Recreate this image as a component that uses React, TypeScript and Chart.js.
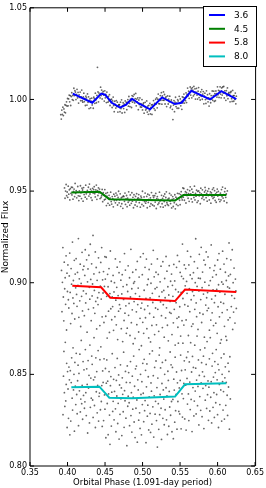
import { useEffect, useRef } from "react";
import { Chart, registerables } from "chart.js";

Chart.register(...registerables);

// ---- axes ----
const X_TICKS = [0.35, 0.4, 0.45, 0.5, 0.55, 0.6, 0.65];
const Y_TICKS = [0.8, 0.85, 0.9, 0.95, 1.0, 1.05];
const X_TITLE = "Orbital Phase (1.091-day period)";
const Y_TITLE = "Normalized Flux";

// ---- series ----
const SERIES = ["3.6", "4.5", "5.8", "8.0"];
const COLORS = ["#0000ff", "#008000", "#ff0000", "#00bfbf"];

// ---- model curves (phase, flux) ----
const MODEL_PHASE_36 = [0.407, 0.433, 0.445, 0.45, 0.459, 0.47, 0.478, 0.486, 0.495, 0.51, 0.526, 0.543, 0.552, 0.565, 0.59, 0.605, 0.625];
const MODEL_FLUX_36 = [1.0032, 0.9982, 1.0032, 1.0026, 0.9982, 0.9955, 0.9972, 1.0004, 0.9978, 0.9946, 1.0011, 0.9975, 0.9982, 1.0047, 1.0, 1.0045, 1.0002];
const MODEL_PHASE_45 = [0.405, 0.4425, 0.4557, 0.486, 0.5433, 0.5544, 0.6117];
const MODEL_FLUX_45 = [0.9492, 0.9496, 0.9456, 0.9453, 0.9448, 0.9478, 0.9478];
const MODEL_PHASE_58 = [0.4064, 0.4448, 0.457, 0.4861, 0.5433, 0.5566, 0.6249];
const MODEL_FLUX_58 = [0.8984, 0.8975, 0.8918, 0.8912, 0.89, 0.8963, 0.895];
const MODEL_PHASE_80 = [0.4051, 0.4425, 0.4557, 0.4861, 0.5433, 0.5566, 0.6117];
const MODEL_FLUX_80 = [0.8429, 0.8433, 0.8373, 0.837, 0.8379, 0.8446, 0.8451];

// ---- observed points: evenly sampled phase range, flux = base + value * 1e-4 ----
const DOTS_RANGE_36 = [0.391, 0.625];
const DOTS_BASE_36 = 1.0;
const DOTS_36 = [
  -83,-107,-58,-82,-42,-88,-52,-69,-29,-73,-32,-13,-36,5,
  -35,3,24,-13,21,-33,16,37,-1,21,-5,61,21,48,
  40,-1,28,55,8,39,-20,25,11,40,-7,14,51,-7,
  -15,14,34,-12,5,-33,18,8,-31,30,-16,14,-50,-5,
  4,-46,-10,7,-30,-12,-48,12,4,-21,34,-2,-18,22,
  175,41,-13,35,26,8,67,21,51,3,35,44,24,-9,
  47,9,28,-17,40,13,-15,17,-8,26,-33,-1,-17,1,
  -44,-8,13,-33,-67,-10,-27,-47,-6,-39,-15,-69,-33,-29,
  -29,-67,-15,-50,-2,-74,-34,-18,-50,-26,-71,-8,-31,-16,
  -56,-16,-1,-37,16,-21,-39,1,-8,-44,21,-15,17,-6,
  27,-19,4,33,-35,2,-14,9,-56,-3,-28,8,-41,-23,
  -42,-1,-57,-26,-19,-75,-38,-16,-58,-51,-8,-69,-36,-81,
  -32,-62,-21,-79,-44,-30,-82,-29,-39,-6,-50,-22,-59,1,
  -25,9,-46,1,29,-23,0,-24,21,-5,37,-26,19,-4,
  41,-5,27,-25,8,15,-39,-2,19,-25,2,-13,18,-45,
  -36,-3,-16,-54,-110,-31,-6,-67,-15,12,-39,-20,-48,-1,
  -8,-48,17,-21,3,-35,-11,-54,14,-19,11,29,-20,9,
  -7,36,-17,27,62,20,45,6,39,68,24,58,9,64,
  51,19,71,28,58,2,40,60,24,2,45,65,10,26,
  -3,41,17,54,1,29,43,-24,18,34,-1,-22,47,4,
  26,-13,9,-36,31,5,-18,21,2,46,-5,21,45,-11,
  31,-7,46,31,13,69,25,50,11,45,69,29,9,63,
  24,68,35,71,8,47,36,-5,48,20,63,4,33,38,
  26,-13,38,44,4,-11,49,20,-10,21,0,35,-24,18,
];

const DOTS_RANGE_45 = [0.396, 0.613];
const DOTS_BASE_45 = 0.95;
const DOTS_45 = [
  17,-39,0,36,-25,-5,-34,27,-17,7,-48,13,-12,22,
  -21,20,-44,-2,11,-30,42,-13,3,-37,-6,25,-26,-52,
  1,-28,29,-9,-41,16,6,-55,19,-19,-4,-33,32,-15,
  -43,4,-7,21,-27,38,-16,10,-36,-1,-50,15,-11,8,
  24,-14,-32,7,33,-45,2,-24,18,-10,11,-41,-7,-35,
  -25,9,-58,-9,-20,-48,8,-44,-13,-79,-28,-8,-67,-40,
  -23,-77,-38,-6,-57,-71,-30,-42,-86,-17,-52,-28,-64,-11,
  -50,-22,-76,-35,-1,-64,-48,-15,-83,-37,-69,-32,-94,-26,
  -30,-56,-11,-73,-43,-24,-85,-39,-61,-4,-52,-77,-21,-47,
  -67,-9,-55,-34,-91,-20,-46,-76,-29,-59,-14,-83,-41,-37,
  -19,-63,-44,-88,-27,-36,-73,-1,-51,-81,-32,-57,-11,-66,
  -54,-29,-91,-17,-62,-46,-22,-83,-37,-69,-8,-50,-76,-25,
  -35,-81,-25,-60,-13,-95,-41,-30,-73,-46,-65,-6,-54,-86,
  -47,-23,-69,-40,-88,-28,-57,-16,-79,-35,-4,-63,-73,-44,
  -78,-39,-13,-55,-68,-22,-92,-46,-30,-84,-42,-63,-20,-97,
  -33,-73,-40,-12,-79,-40,-14,-50,-74,-19,-3,-37,-48,17,
  -33,14,-50,-18,-3,-65,-9,-24,8,-39,-14,-56,2,23,
  -15,-43,10,-59,-6,-20,-35,27,-48,-12,-28,5,-62,-2,
  -53,1,-26,-8,-69,16,-16,-40,7,-31,-21,-47,-5,20,
  4,-36,-13,-55,-1,-24,13,-48,-18,-4,-66,-10,-29,9,
  -40,18,-33,2,-51,-15,-61,-7,11,-27,-2,-45,-19,-57,
  -11,-48,8,-30,22,-38,-20,-54,-3,15,-34,-16,-63,1,
];

const DOTS_RANGE_58 = [0.392, 0.625];
const DOTS_BASE_58 = 0.9;
const DOTS_58 = [
  67,-158,2,192,-78,-208,112,-33,27,-118,147,-258,52,-48,97,-93,
  -138,37,162,-53,-223,77,-8,-168,222,-83,12,-113,122,-198,47,-28,
  131,-64,-129,56,-14,241,-189,21,-99,101,-239,-4,-74,166,-154,71,
  -45,90,-180,40,180,-110,-60,125,-270,5,75,-145,150,-25,-90,210,
  18,-207,103,-72,-7,258,-137,48,-42,-167,168,-102,83,-252,13,-82,
  -119,136,-54,56,-234,-19,111,-89,192,-186,16,-56,61,-217,-20,142,
  20,-183,139,-74,-302,46,-22,-155,77,-271,-59,173,-142,8,-202,-77,
  -130,40,-260,-50,0,-185,130,-95,-230,-25,85,-310,-70,-155,55,-120,
  114,-141,14,-251,-61,44,-321,-21,-91,-206,159,-166,69,-126,-276,-11,
  -248,-48,92,-178,-113,27,-288,-78,182,-218,-33,-148,57,-333,-3,-103,
  6,-304,-59,71,-159,-229,116,-119,-29,-269,31,-74,-194,141,-139,-344,
  -111,44,-216,159,-276,-41,-146,84,-191,-86,129,-251,-11,-126,19,-301,
  72,-168,-83,-323,-3,102,-233,-58,-108,177,-188,32,-283,-33,-138,57,
  -230,-25,130,-145,45,-265,-75,-355,5,-105,90,-180,-50,-245,115,-120,
  -42,-297,23,-82,-192,143,-137,63,-232,-22,-317,-67,93,-162,-102,8,
  -167,47,-283,-14,-74,-219,100,-145,10,-340,-37,-109,84,-194,149,-243,
  -50,-187,116,-131,56,-291,-53,35,-207,211,-86,22,-231,97,-120,-17,
  77,-203,7,-58,172,-128,-288,97,-33,-158,42,142,-93,-238,22,-48,
  -225,55,-70,115,-145,0,240,-110,-185,-20,80,-255,25,-45,155,-165,
  23,-92,193,-217,-27,58,-172,-62,123,-297,3,98,-122,168,-82,-152,
  -54,141,-139,-14,-259,81,11,-204,206,-89,-164,31,-39,-234,66,-109,
  94,-71,-221,44,-36,-276,124,-131,-11,159,-186,-51,74,-106,-311,4,
  -163,172,-8,-113,102,-238,-63,57,-293,12,132,-148,-23,-203,37,217,
  -30,-190,45,125,-130,-70,180,-255,0,-160,80,-85,-220,20,-45,-140,
];

const DOTS_RANGE_80 = [0.394, 0.617];
const DOTS_BASE_80 = 0.85;
const DOTS_80 = [
  -220,-10,125,-100,-175,175,-145,-55,60,-290,15,-80,-240,40,-30,-330,
  20,-255,-45,90,-130,-195,145,-85,0,-310,65,-65,-165,115,-110,-215,
  -35,50,-280,5,-90,110,-205,-135,185,-160,-60,-245,70,-115,25,-185,
  -150,135,-100,-225,30,-55,-320,75,-75,-5,-265,160,-180,-20,-130,100,
  55,-140,-235,-30,200,-170,-15,-290,90,-95,15,-210,-60,130,-255,-120,
  -102,80,-193,150,-148,-61,-284,19,-44,-252,85,-112,-190,32,-346,-48,
  79,-159,-37,-329,-107,15,-222,-382,-62,-12,-282,-97,113,-202,-147,-27,
  -248,-93,37,-188,-313,-33,-118,87,-268,-158,-3,-353,-58,-218,52,-133,
  -74,-334,-19,-109,-204,121,-289,-89,-144,16,-239,-44,-389,46,-174,-119,
  10,-155,-280,-45,70,-225,-100,-315,-10,-190,-125,100,-260,-65,-345,30,
  -185,45,-140,-370,-30,-85,-250,135,-210,-295,0,-110,-330,-40,-165,60,
  -103,-258,82,-198,-143,22,-373,-68,57,-228,-168,-13,-303,-123,112,-213,
  -317,-47,-92,-272,128,-177,-7,-342,-117,38,-217,-147,73,-252,-72,-397,
  -20,-160,-300,105,-220,-110,35,-185,-355,-50,65,-240,-85,-135,-275,0,
  -193,77,-73,-248,-118,-328,17,-33,-283,-93,-178,122,-223,52,-148,-313,
  38,-137,-351,-26,-86,-261,94,-198,-110,13,-299,-46,-148,170,-202,-74,
  -216,-33,105,-297,21,-106,-233,170,-132,-49,74,-243,25,-59,-304,92,
  -22,-162,123,-107,-252,68,-42,-192,173,-137,13,-312,98,-72,38,-227,
  -146,159,-91,34,-216,-31,209,-171,-66,79,-276,-6,-121,134,-196,-46,
  64,-231,14,-76,99,-296,-11,144,-141,-61,54,-186,179,-111,-36,-251,
  -70,85,-200,200,-125,-40,-265,45,115,-180,-15,-100,-235,70,10,-155,
  135,-110,-30,-220,55,-290,25,-55,-165,170,-85,90,-255,0,-40,-195,
  -94,111,-244,-19,41,-169,-44,186,-114,-224,61,-69,16,-299,96,-134,
];

const FONT = "'DejaVu Sans', sans-serif";

function dotPoints(range: number[], base: number, vals: number[]) {
  const n = vals.length;
  return vals.map((v, i) => ({
    x: range[0] + ((range[1] - range[0]) * i) / (n - 1),
    y: base + v / 10000,
  }));
}

function modelPoints(phase: number[], flux: number[]) {
  return phase.map((p, i) => ({ x: p, y: flux[i] }));
}

const framePlugin = {
  id: "frame",
  afterDraw(chart: any) {
    const { ctx, chartArea, scales } = chart;
    const { left, right, top, bottom } = chartArea;
    const xs = scales.x;
    const ys = scales.y;
    ctx.save();
    ctx.strokeStyle = "#000";
    ctx.lineWidth = 1;
    const line = (x1: number, y1: number, x2: number, y2: number) => {
      ctx.beginPath();
      ctx.moveTo(x1, y1);
      ctx.lineTo(x2, y2);
      ctx.stroke();
    };
    X_TICKS.forEach((v) => {
      const px = xs.getPixelForValue(v);
      line(px, bottom, px, bottom - 4);
      line(px, top, px, top + 4);
    });
    Y_TICKS.forEach((v) => {
      const py = ys.getPixelForValue(v);
      line(left, py, left + 4, py);
      line(right, py, right - 4, py);
    });
    line(left, top, left, bottom);
    line(left, bottom, right, bottom);
    line(left, top, right, top);
    line(right + 0.5, top, right + 0.5, bottom);

    // legend
    const bx = 203.5, by = 6.5, bw = 53, bh = 60;
    ctx.fillStyle = "#fff";
    ctx.fillRect(bx, by, bw, bh);
    ctx.strokeStyle = "#000";
    ctx.strokeRect(bx, by, bw, bh);
    ctx.font = `9px ${FONT}`;
    ctx.textBaseline = "middle";
    ctx.textAlign = "left";
    SERIES.forEach((name, i) => {
      const yy = 15 + i * 13.8;
      ctx.strokeStyle = COLORS[i];
      ctx.lineWidth = 2;
      line(209, yy, 225, yy);
      ctx.fillStyle = "#000";
      ctx.fillText(name, 234, yy + 0.5);
    });
    ctx.restore();
  },
};

export default function App() {
  const ref = useRef<HTMLCanvasElement | null>(null);

  useEffect(() => {
    document.body.style.margin = "0";
    const canvas = ref.current;
    if (!canvas) return;

    const dotStyle = {
      showLine: false,
      pointRadius: 0.9,
      pointBorderWidth: 0,
      pointBackgroundColor: "rgba(0,0,0,0.6)",
      backgroundColor: "rgba(0,0,0,0.6)",
      borderWidth: 0,
      order: 2,
    };
    const lineStyle = (i: number) => ({
      showLine: true,
      borderColor: COLORS[i],
      backgroundColor: COLORS[i],
      borderWidth: 2,
      pointRadius: 0,
      tension: 0,
      fill: false,
      order: 1,
    });

    const chart = new Chart(canvas, {
      type: "scatter",
      data: {
        datasets: [
          { label: SERIES[0], data: modelPoints(MODEL_PHASE_36, MODEL_FLUX_36), ...lineStyle(0) },
          { label: SERIES[1], data: modelPoints(MODEL_PHASE_45, MODEL_FLUX_45), ...lineStyle(1) },
          { label: SERIES[2], data: modelPoints(MODEL_PHASE_58, MODEL_FLUX_58), ...lineStyle(2) },
          { label: SERIES[3], data: modelPoints(MODEL_PHASE_80, MODEL_FLUX_80), ...lineStyle(3) },
          { label: "d36", data: dotPoints(DOTS_RANGE_36, DOTS_BASE_36, DOTS_36), ...dotStyle },
          { label: "d45", data: dotPoints(DOTS_RANGE_45, DOTS_BASE_45, DOTS_45), ...dotStyle },
          { label: "d58", data: dotPoints(DOTS_RANGE_58, DOTS_BASE_58, DOTS_58), ...dotStyle },
          { label: "d80", data: dotPoints(DOTS_RANGE_80, DOTS_BASE_80, DOTS_80), ...dotStyle },
        ] as any,
      },
      options: {
        responsive: false,
        animation: false,
        devicePixelRatio: 1,
        layout: { padding: { left: 0, top: 3, right: 9, bottom: 0 }, autoPadding: false } as any,
        plugins: { legend: { display: false }, tooltip: { enabled: false } },
        scales: {
          x: {
            type: "linear",
            position: "bottom",
            min: 0.35,
            max: 0.65,
            grid: { display: false, drawTicks: false },
            border: { display: false },
            afterBuildTicks: (s: any) => {
              s.ticks = X_TICKS.map((v) => ({ value: v }));
            },
            afterFit: (s: any) => {
              s.height = 22;
            },
            ticks: {
              autoSkip: false,
              maxRotation: 0,
              padding: 2,
              color: "#000",
              font: { family: FONT, size: 8 },
              callback: (v: any) => Number(v).toFixed(2),
            },
            title: {
              display: true,
              text: X_TITLE,
              color: "#000",
              padding: 0,
              font: { family: FONT, size: 8.5 },
            },
          },
          y: {
            type: "linear",
            min: 0.8,
            max: 1.05,
            grid: { display: false, drawTicks: false },
            border: { display: false },
            afterBuildTicks: (s: any) => {
              s.ticks = Y_TICKS.map((v) => ({ value: v }));
            },
            afterFit: (s: any) => {
              s.width = 30;
            },
            ticks: {
              autoSkip: false,
              padding: 3,
              color: "#000",
              font: { family: FONT, size: 8 },
              callback: (v: any) => Number(v).toFixed(2),
            },
            title: {
              display: true,
              text: Y_TITLE,
              color: "#000",
              padding: 0,
              font: { family: FONT, size: 9 },
            },
          },
        },
      } as any,
      plugins: [framePlugin],
    });

    return () => chart.destroy();
  }, []);

  return (
    <div style={{ width: 266, height: 488 }}>
      <canvas ref={ref} width={266} height={488} style={{ display: "block" }} />
    </div>
  );
}
